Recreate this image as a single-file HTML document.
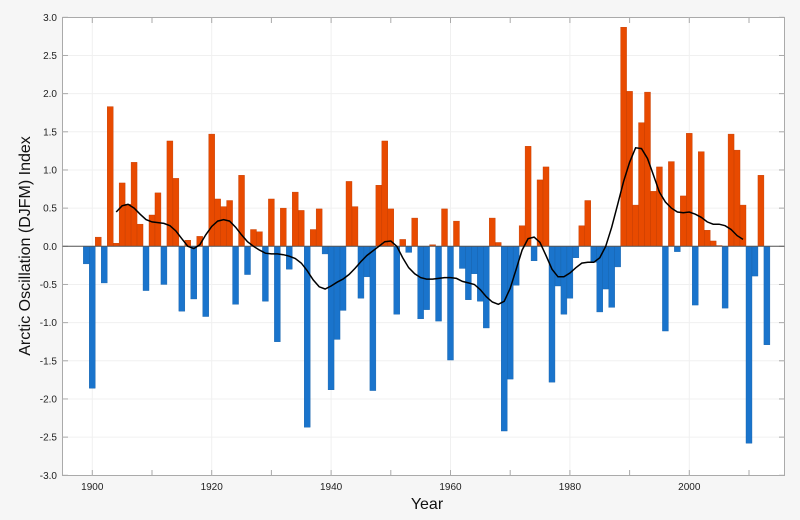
<!DOCTYPE html>
<html><head><meta charset="utf-8"><style>
html,body{margin:0;padding:0;background:#f6f6f6;}
svg{display:block;font-family:"Liberation Sans",sans-serif;}
</style></head><body>
<svg id="s" width="800" height="520" xmlns="http://www.w3.org/2000/svg">
<rect x="0" y="0" width="800" height="520" fill="#f6f6f6"/>
<rect x="62.5" y="17.5" width="722" height="458" fill="#ffffff" stroke="#aaaaaa" stroke-width="1"/>
<g id="grid"></g>
<g id="bars"></g>
<line x1="62.5" x2="784.5" y1="246.3" y2="246.3" stroke="#555" stroke-width="1"/>
<path id="smooth" fill="none" stroke="#000" stroke-width="1.5"/>
<g id="labels" font-size="10" fill="#222"></g>
<text x="427" y="509" font-size="16" text-anchor="middle" fill="#111">Year</text>
<text transform="translate(30,246) rotate(-90)" font-size="16" text-anchor="middle" fill="#111">Arctic Oscillation (DJFM) Index</text>
</svg>
<script>
var vals=[-0.23,-1.86,0.12,-0.48,1.83,0.04,0.83,0.55,1.10,0.29,-0.58,0.41,0.70,-0.50,1.38,0.89,-0.85,0.08,-0.69,0.13,-0.92,1.47,0.62,0.52,0.60,-0.76,0.93,-0.37,0.22,0.19,-0.72,0.62,-1.25,0.50,-0.30,0.71,0.47,-2.37,0.22,0.49,-0.10,-1.88,-1.22,-0.84,0.85,0.52,-0.68,-0.40,-1.89,0.80,1.38,0.49,-0.89,0.09,-0.08,0.37,-0.95,-0.83,0.02,-0.98,0.49,-1.49,0.33,-0.29,-0.70,-0.36,-0.72,-1.07,0.37,0.05,-2.42,-1.74,-0.51,0.27,1.31,-0.19,0.87,1.04,-1.78,-0.52,-0.89,-0.68,-0.15,0.27,0.60,-0.21,-0.86,-0.56,-0.80,-0.27,2.87,2.03,0.54,1.62,2.02,0.72,1.04,-1.11,1.11,-0.07,0.66,1.48,-0.77,1.24,0.21,0.07,0.01,-0.81,1.47,1.26,0.54,-2.58,-0.39,0.93,-1.29];
var sm=[0.45,0.53,0.55,0.50,0.42,0.35,0.32,0.31,0.30,0.27,0.2,0.1,0.0,-0.03,0.02,0.15,0.26,0.33,0.35,0.33,0.25,0.15,0.06,0.0,-0.05,-0.09,-0.1,-0.1,-0.11,-0.13,-0.16,-0.22,-0.32,-0.44,-0.53,-0.56,-0.52,-0.47,-0.43,-0.37,-0.29,-0.2,-0.12,-0.06,0.0,0.06,0.07,0.0,-0.15,-0.28,-0.36,-0.41,-0.43,-0.43,-0.42,-0.41,-0.41,-0.42,-0.46,-0.48,-0.5,-0.57,-0.66,-0.73,-0.76,-0.72,-0.55,-0.3,-0.05,0.1,0.12,0.05,-0.12,-0.3,-0.4,-0.4,-0.35,-0.28,-0.22,-0.21,-0.21,-0.15,0.0,0.25,0.55,0.85,1.1,1.29,1.28,1.15,0.93,0.71,0.58,0.5,0.45,0.44,0.45,0.42,0.38,0.32,0.29,0.29,0.27,0.22,0.14,0.09];
var NS="http://www.w3.org/2000/svg";
function X(y){return 92.3+(y-1900)*5.97;}
function Y(v){return 246.3-v*76.33;}
function el(t,a,p){var e=document.createElementNS(NS,t);for(var k in a)e.setAttribute(k,a[k]);p.appendChild(e);return e;}
var g=document.getElementById('grid'),b=document.getElementById('bars'),L=document.getElementById('labels');
for(var v=-3;v<=3.001;v+=0.5){var y=Y(v);
 if(v>-2.99&&v<2.99)el('line',{x1:62.5,x2:784.5,y1:y,y2:y,stroke:'#f0f0f0'},g);
 el('line',{x1:62.5,x2:68,y1:y,y2:y,stroke:'#aaa'},g);el('line',{x1:779,x2:784.5,y1:y,y2:y,stroke:'#aaa'},g);
 var t=el('text',{x:57,y:y+3.5,'text-anchor':'end'},L);t.textContent=v.toFixed(1);}
for(var yr=1900;yr<=2010;yr+=10){var x=X(yr);
 if(yr%20==0){el('line',{x1:x,x2:x,y1:17.5,y2:475.5,stroke:'#f0f0f0'},g);var t=el('text',{x:x,y:490,'text-anchor':'middle'},L);t.textContent=yr;}
 el('line',{x1:x,x2:x,y1:17.5,y2:23,stroke:'#aaa'},g);el('line',{x1:x,x2:x,y1:470,y2:475.5,stroke:'#aaa'},g);}
vals.forEach(function(v,i){var yr=1899+i,x=X(yr)-3,y0=Y(0),y1=Y(v);
 el('rect',{x:x,y:Math.min(y0,y1),width:5.97,height:Math.abs(y1-y0),fill:v>=0?'#e84a00':'#1a74cc',stroke:v>=0?'#c03c00':'#1560a8','stroke-width':0.4},b);});
var d='';sm.forEach(function(v,i){d+=(i?'L':'M')+X(1904+i).toFixed(1)+','+Y(v).toFixed(1);});
document.getElementById('smooth').setAttribute('d',d);
</script>
</body></html>
